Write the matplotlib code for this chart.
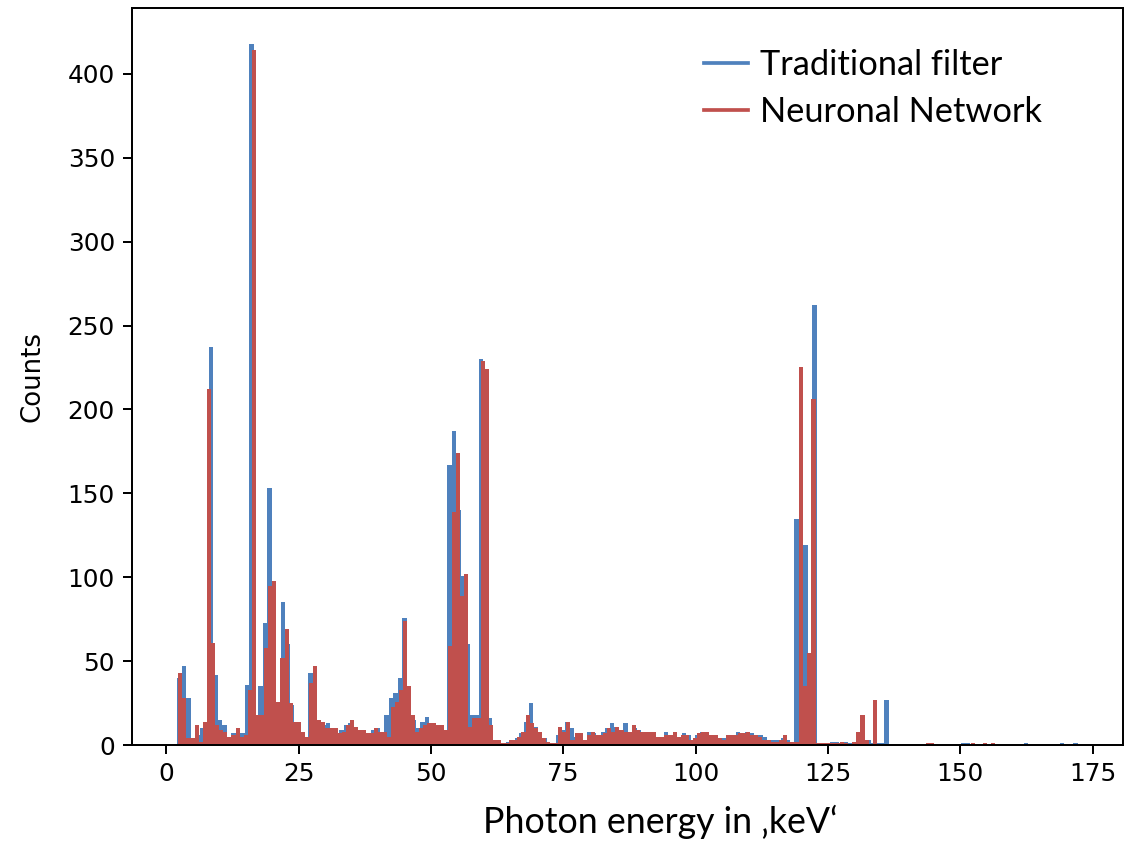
import matplotlib
matplotlib.use("Agg")
import matplotlib.pyplot as plt
import numpy as np
from matplotlib.lines import Line2D

# histogram counts per bin
# traditional filter: 200 bins between 2.1 and 172.2 keV
trad_range = (2.1, 172.2)
trad_counts = [
    40, 47, 28, 3, 6, 10, 12, 237, 42, 15,
    12, 5, 7, 7, 7, 36, 418, 15, 35, 73,
    153, 85, 25, 85, 60, 24, 14, 8, 5, 43,
    43, 15, 12, 13, 10, 7, 9, 12, 13, 11,
    9, 9, 7, 9, 10, 8, 18, 28, 31, 40,
    76, 34, 15, 10, 14, 17, 13, 12, 10, 9,
    167, 187, 140, 101, 60, 18, 18, 230, 150, 16,
    3, 3, 1, 2, 3, 4, 7, 14, 25, 11,
    8, 4, 1, 1, 6, 9, 14, 10, 5, 4,
    3, 8, 7, 6, 8, 10, 13, 11, 9, 13,
    8, 10, 9, 7, 6, 8, 5, 5, 8, 6,
    7, 5, 7, 6, 3, 6, 8, 7, 5, 4,
    4, 4, 6, 6, 8, 7, 8, 7, 6, 6,
    5, 3, 3, 3, 4, 3, 1, 135, 120, 119,
    40, 262, 1, 1, 1, 2, 2, 1, 2, 1,
    1, 1, 2, 3, 1, 1, 1, 27, 0, 0,
    0, 0, 0, 0, 0, 0, 0, 0, 0, 0,
    0, 0, 0, 0, 1, 1, 0, 0, 0, 0,
    0, 0, 0, 0, 0, 0, 0, 0, 1, 0,
    0, 0, 0, 0, 0, 0, 1, 0, 0, 1,
]

# neuronal network: 200 bins between 2.3 and 156.6 keV
nn_range = (2.3, 156.6)
nn_counts = [
    43, 28, 4, 4, 12, 2, 14, 212, 61, 12,
    9, 8, 5, 6, 10, 5, 6, 33, 414, 18,
    18, 58, 95, 98, 26, 52, 69, 25, 14, 14,
    8, 5, 37, 47, 15, 14, 10, 10, 10, 7,
    8, 12, 15, 11, 9, 9, 7, 7, 10, 8,
    8, 5, 23, 26, 33, 74, 35, 18, 8, 10,
    12, 13, 13, 12, 12, 9, 59, 139, 174, 89,
    102, 11, 16, 16, 229, 224, 12, 3, 3, 1,
    1, 3, 3, 5, 8, 18, 13, 10, 8, 4,
    2, 1, 1, 11, 8, 14, 3, 7, 7, 3,
    6, 8, 6, 6, 7, 10, 8, 11, 9, 8,
    8, 12, 9, 8, 8, 8, 8, 5, 5, 6,
    6, 8, 5, 6, 6, 3, 4, 7, 8, 8,
    6, 6, 4, 3, 6, 6, 6, 7, 7, 8,
    6, 6, 5, 3, 3, 2, 2, 3, 6, 2,
    2, 2, 225, 35, 55, 206, 1, 1, 1, 1,
    1, 1, 2, 1, 0, 2, 8, 18, 3, 0,
    27, 0, 0, 0, 0, 0, 0, 0, 0, 0,
    0, 0, 0, 1, 1, 0, 0, 0, 0, 0,
    0, 0, 0, 0, 1, 0, 0, 1, 0, 1,
]

labels = ["Traditional filter", "Neuronal Network"]
blue = "#4F81BD"
red = "#C0504D"

fig = plt.figure(figsize=(1140 / 178, 842 / 178), dpi=178)
ax = fig.add_axes([0.116, 0.115, 0.869, 0.875])

trad_edges = np.linspace(trad_range[0], trad_range[1], len(trad_counts) + 1)
nn_edges = np.linspace(nn_range[0], nn_range[1], len(nn_counts) + 1)

ax.hist(trad_edges[:-1], bins=trad_edges, weights=trad_counts, color=blue)
ax.hist(nn_edges[:-1], bins=nn_edges, weights=nn_counts, color=red)

ax.set_xticks([0, 25, 50, 75, 100, 125, 150, 175])
ax.set_ylabel("Counts", family="DejaVu Sans", fontsize=10.5, labelpad=9)

# legend and x label were added in a different font
handles = [Line2D([], [], color=blue, lw=1.5), Line2D([], [], color=red, lw=1.5)]
ax.legend(handles, labels, loc="upper left", bbox_to_anchor=(0.590, 0.979),
          bbox_transform=fig.transFigure, frameon=False,
          prop={"family": "Lato", "size": 13.9},
          handlelength=1.3, handletextpad=0.35, labelspacing=0.45)
fig.text(0.579, 0.0238, "Photon energy in \u201akeV\u2018", family="Lato",
         fontsize=14.4, ha="center", va="center")

fig.savefig("out.png", dpi=178)
